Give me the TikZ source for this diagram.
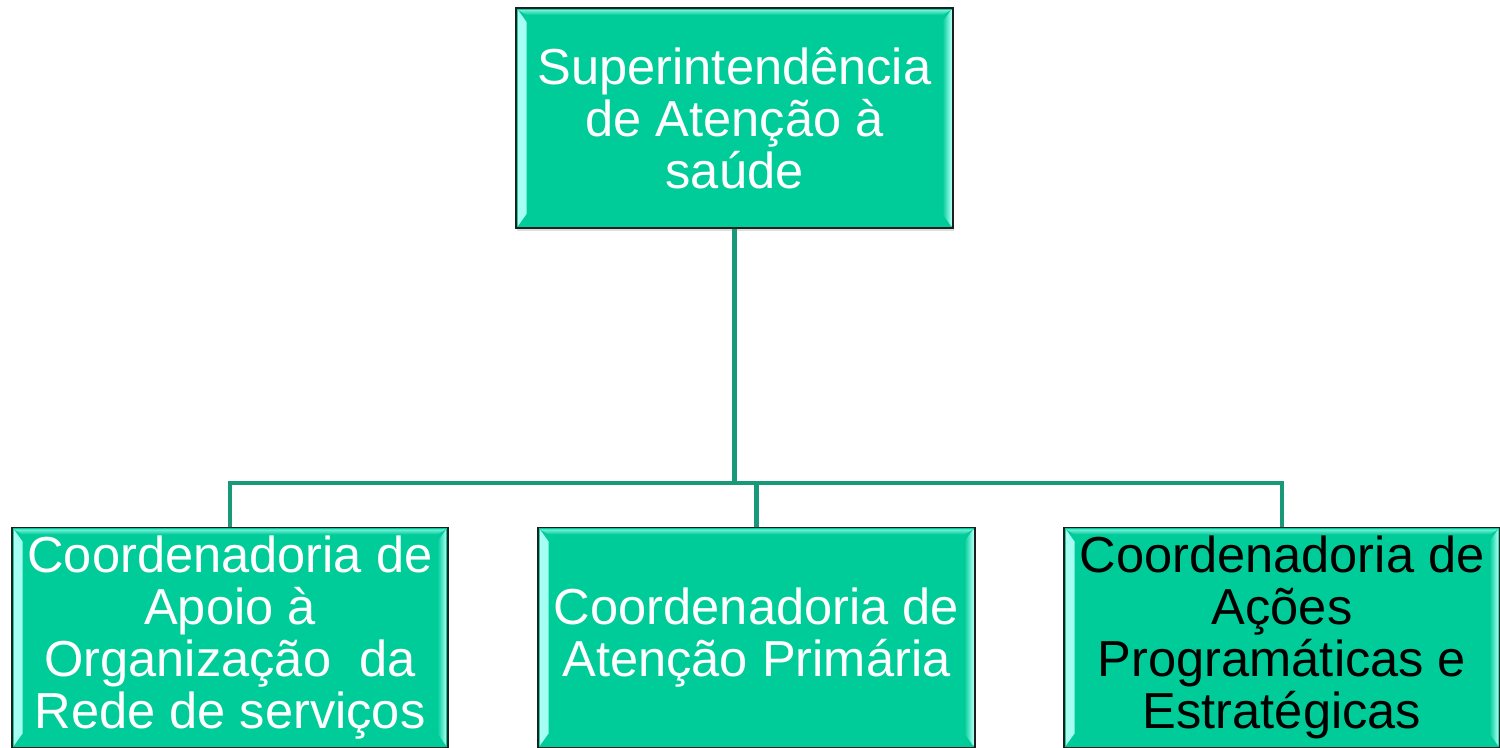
\documentclass[tikz,border=0pt]{standalone}
\usepackage{fontspec}
\setmainfont{Liberation Sans}
\usetikzlibrary{shadows}
\definecolor{boxfill}{HTML}{00CC99}
\definecolor{boxedge}{HTML}{1E1E1E}
\definecolor{conncol}{HTML}{17997A}
\definecolor{bevlight}{HTML}{A8FFF4}
\tikzset{
  orgbox/.style={draw=boxedge, line width=1.1pt, fill=boxfill,
    minimum width=437*0.02cm, minimum height=220*0.02cm, inner sep=0pt,
    align=center, text=white,
    font=\fontsize{28.8pt}{29.6pt}\selectfont,
    drop shadow={opacity=0.25, shadow xshift=0.8pt, shadow yshift=-1.6pt},
    path picture={
      \shade[left color=bevlight, right color=boxfill]
        ([xshift=1pt,yshift=-1pt]path picture bounding box.north west) -- ++(5pt,-7pt)
        -- ([xshift=6pt,yshift=8pt]path picture bounding box.south west)
        -- ([xshift=1pt,yshift=1pt]path picture bounding box.south west) -- cycle;
      \shade[right color=bevlight, left color=boxfill]
        ([xshift=-1pt,yshift=-1pt]path picture bounding box.north east) -- ++(-5pt,-7pt)
        -- ([xshift=-6pt,yshift=8pt]path picture bounding box.south east)
        -- ([xshift=-1pt,yshift=1pt]path picture bounding box.south east) -- cycle;
      \shade[top color=bevlight!70!boxfill, bottom color=boxfill]
        ([xshift=1pt,yshift=-1pt]path picture bounding box.north west)
        -- ([xshift=-1pt,yshift=-1pt]path picture bounding box.north east)
        -- ++(-5pt,-3pt) -- ([xshift=6pt,yshift=-4pt]path picture bounding box.north west) -- cycle;
    }},
  conn/.style={draw=conncol, line width=2.5pt}
}
\begin{document}
\begin{tikzpicture}[x=0.02cm, y=-0.02cm]
\useasboundingbox (0,0) rectangle (1500,747);
\node[orgbox] (top) at (734.5,118) {Superintendência\\de Atenção à\\saúde};
\node[orgbox, minimum width=436*0.02cm] (left) at (230,637.5) {Coordenadoria de\\Apoio à\\Organização\ \ da\\Rede de serviços};
\node[orgbox] (mid) at (756.5,637.5) {Coordenadoria de\\Atenção Primária};
\node[orgbox, text=black, minimum width=436*0.02cm] (right) at (1282,637.5) {Coordenadoria de\\Ações\\Programáticas e\\Estratégicas};
\coordinate (bus) at (734.5,483);
\draw[conn] (top.south) -- (bus);
\draw[conn] (left.north) |- (right.north |- bus) -- (right.north);
\draw[conn] (mid.north) -- (mid.north |- bus);
\end{tikzpicture}
\end{document}
